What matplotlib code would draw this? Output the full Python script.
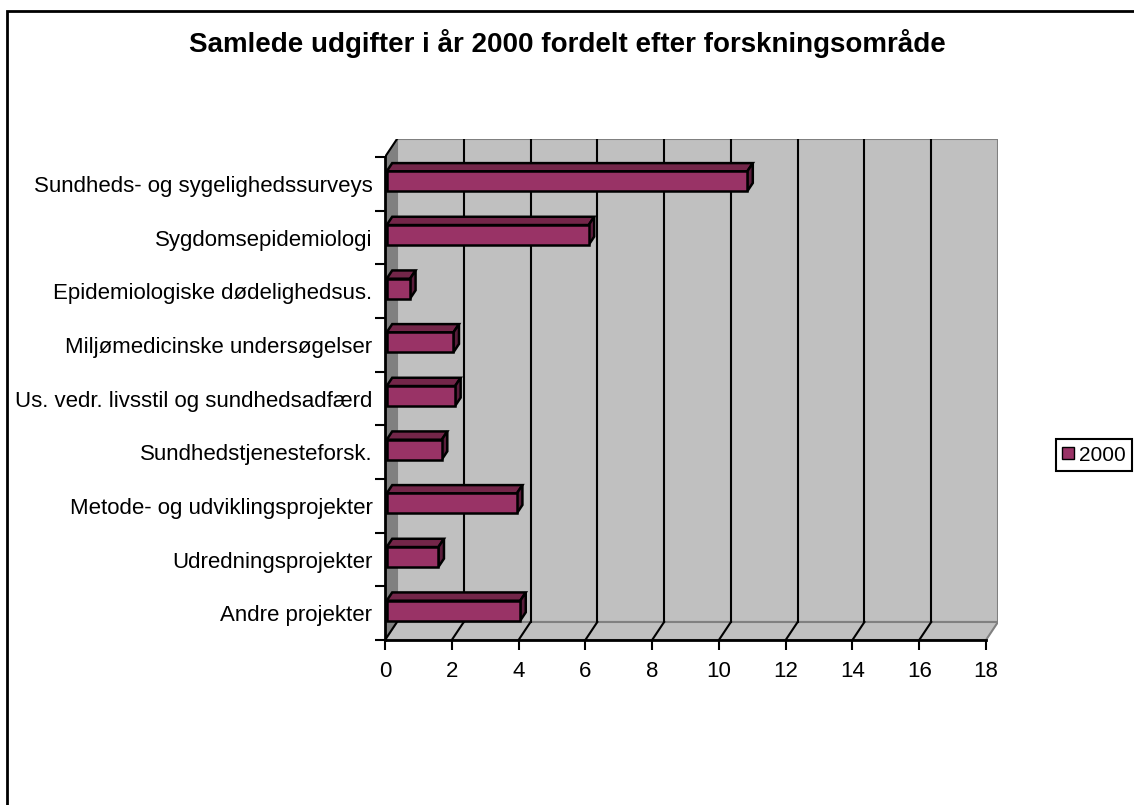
import matplotlib
matplotlib.use('Agg')
import matplotlib.pyplot as plt
from matplotlib.patches import Polygon, Rectangle, Patch

plt.rcParams['font.family'] = ['Liberation Sans', 'DejaVu Sans']

categories = ['Sundheds- og sygelighedssurveys', 'Sygdomsepidemiologi',
              'Epidemiologiske dødelighedsus.', 'Miljømedicinske undersøgelser',
              'Us. vedr. livsstil og sundhedsadfærd', 'Sundhedstjenesteforsk.',
              'Metode- og udviklingsprojekter', 'Udredningsprojekter', 'Andre projekter']
values_2000 = [10.8, 6.05, 0.7, 2.0, 2.05, 1.65, 3.9, 1.55, 4.0]
xticks = list(range(0, 19, 2))
title = 'Samlede udgifter i år 2000 fordelt efter forskningsområde'
series_name = '2000'

W, H = 1134, 805
fig = plt.figure(figsize=(W / 100, H / 100), dpi=100)

# pixel geometry of the plot box (front axis 0..18, 9 category rows)
x0_px, y0_px = 385, 640
sx = 601 / 18
sy = 483 / 9
DX, DY = 12 / sx, 18 / sy  # depth offset in data units
xmax, ymax = 18, len(categories)

ax = fig.add_axes([x0_px / W, (H - y0_px) / H, (xmax + DX) * sx / W, (ymax + DY) * sy / H])
ax.set_xlim(0, xmax + DX)
ax.set_ylim(0, ymax + DY)
for s in ax.spines.values():
    s.set_visible(False)

wall = '#c0c0c0'
dark = '#808080'
# back wall
ax.add_patch(Rectangle((DX, DY), xmax, ymax, facecolor=wall, edgecolor=dark, lw=1.5, zorder=1))
# left wall
ax.add_patch(Polygon([(0, 0), (DX, DY), (DX, ymax + DY), (0, ymax)], closed=True,
                     facecolor=dark, edgecolor='none', zorder=1))
# floor
ax.add_patch(Polygon([(0, 0), (xmax, 0), (xmax + DX, DY), (DX, DY)], closed=True,
                     facecolor=wall, edgecolor=dark, lw=1.5, zorder=1))
# grid lines on wall and floor
for t in xticks[1:-1]:
    ax.plot([t + DX, t + DX], [DY, ymax + DY], color='black', lw=1.5, zorder=2)
for t in xticks[:-1]:
    ax.plot([t, t + DX], [0, DY], color='black', lw=1.5, zorder=2)
ax.plot([0, DX], [ymax, ymax + DY], color='black', lw=1.5, zorder=2)
# front axes
ax.plot([0, xmax], [0, 0], color='black', lw=2, zorder=3, clip_on=False)
ax.plot([0, 0], [0, ymax], color='black', lw=2, zorder=3, clip_on=False)

# bars
d0, dd, h = 0.14, 0.46, 0.37
front = '#993366'
top = '#732649'
side = '#5a1d3b'
n = len(categories)
for k, (cat, v) in enumerate(zip(categories, values_2000)):
    c = n - 1 - k + 0.5
    bx = d0 * DX
    yb = c - h / 2 + d0 * DY
    yt = c + h / 2 + d0 * DY
    ex, ey = dd * DX, dd * DY
    ax.add_patch(Polygon([(bx, yt), (bx + v, yt), (bx + v + ex, yt + ey), (bx + ex, yt + ey)],
                         closed=True, facecolor=top, edgecolor='black', lw=1.8, zorder=4))
    ax.add_patch(Polygon([(bx + v, yb), (bx + v, yt), (bx + v + ex, yt + ey), (bx + v + ex, yb + ey)],
                         closed=True, facecolor=side, edgecolor='black', lw=1.8, zorder=4))
    ax.add_patch(Rectangle((bx, yb), v, h, facecolor=front, edgecolor='black', lw=1.8, zorder=5))

ax.set_xticks(xticks)
ax.set_xticklabels([str(t) for t in xticks], fontsize=16)
ax.tick_params(axis='x', length=7, width=1.5, pad=8)
ax.set_yticks(range(0, n + 1))
ax.set_yticklabels([])
ax.tick_params(axis='y', length=7, width=1.5)
ax.set_yticks([i + 0.5 for i in range(n)], minor=True)
ax.set_yticklabels(categories[::-1], minor=True, fontsize=16)
ax.tick_params(axis='y', which='minor', length=0, pad=9)

fig.text(0.5, 1 - 43 / H, title, ha='center', va='center', fontsize=20, fontweight='bold')

leg = fig.legend(handles=[Patch(facecolor=front, edgecolor='black')], labels=[series_name],
                 loc='center right', bbox_to_anchor=(1132 / W, 1 - 455 / H), fontsize=15,
                 frameon=True, fancybox=False, edgecolor='black', framealpha=1,
                 handlelength=0.55, handleheight=0.55, handletextpad=0.25, borderpad=0.3,
                 borderaxespad=0)
leg.get_frame().set_linewidth(1.5)

fig.add_artist(Rectangle((7 / W, -0.1), 2, 1.1 - 11 / H, transform=fig.transFigure,
                         fill=False, edgecolor='black', lw=2))

fig.savefig('out.png', dpi=100)
